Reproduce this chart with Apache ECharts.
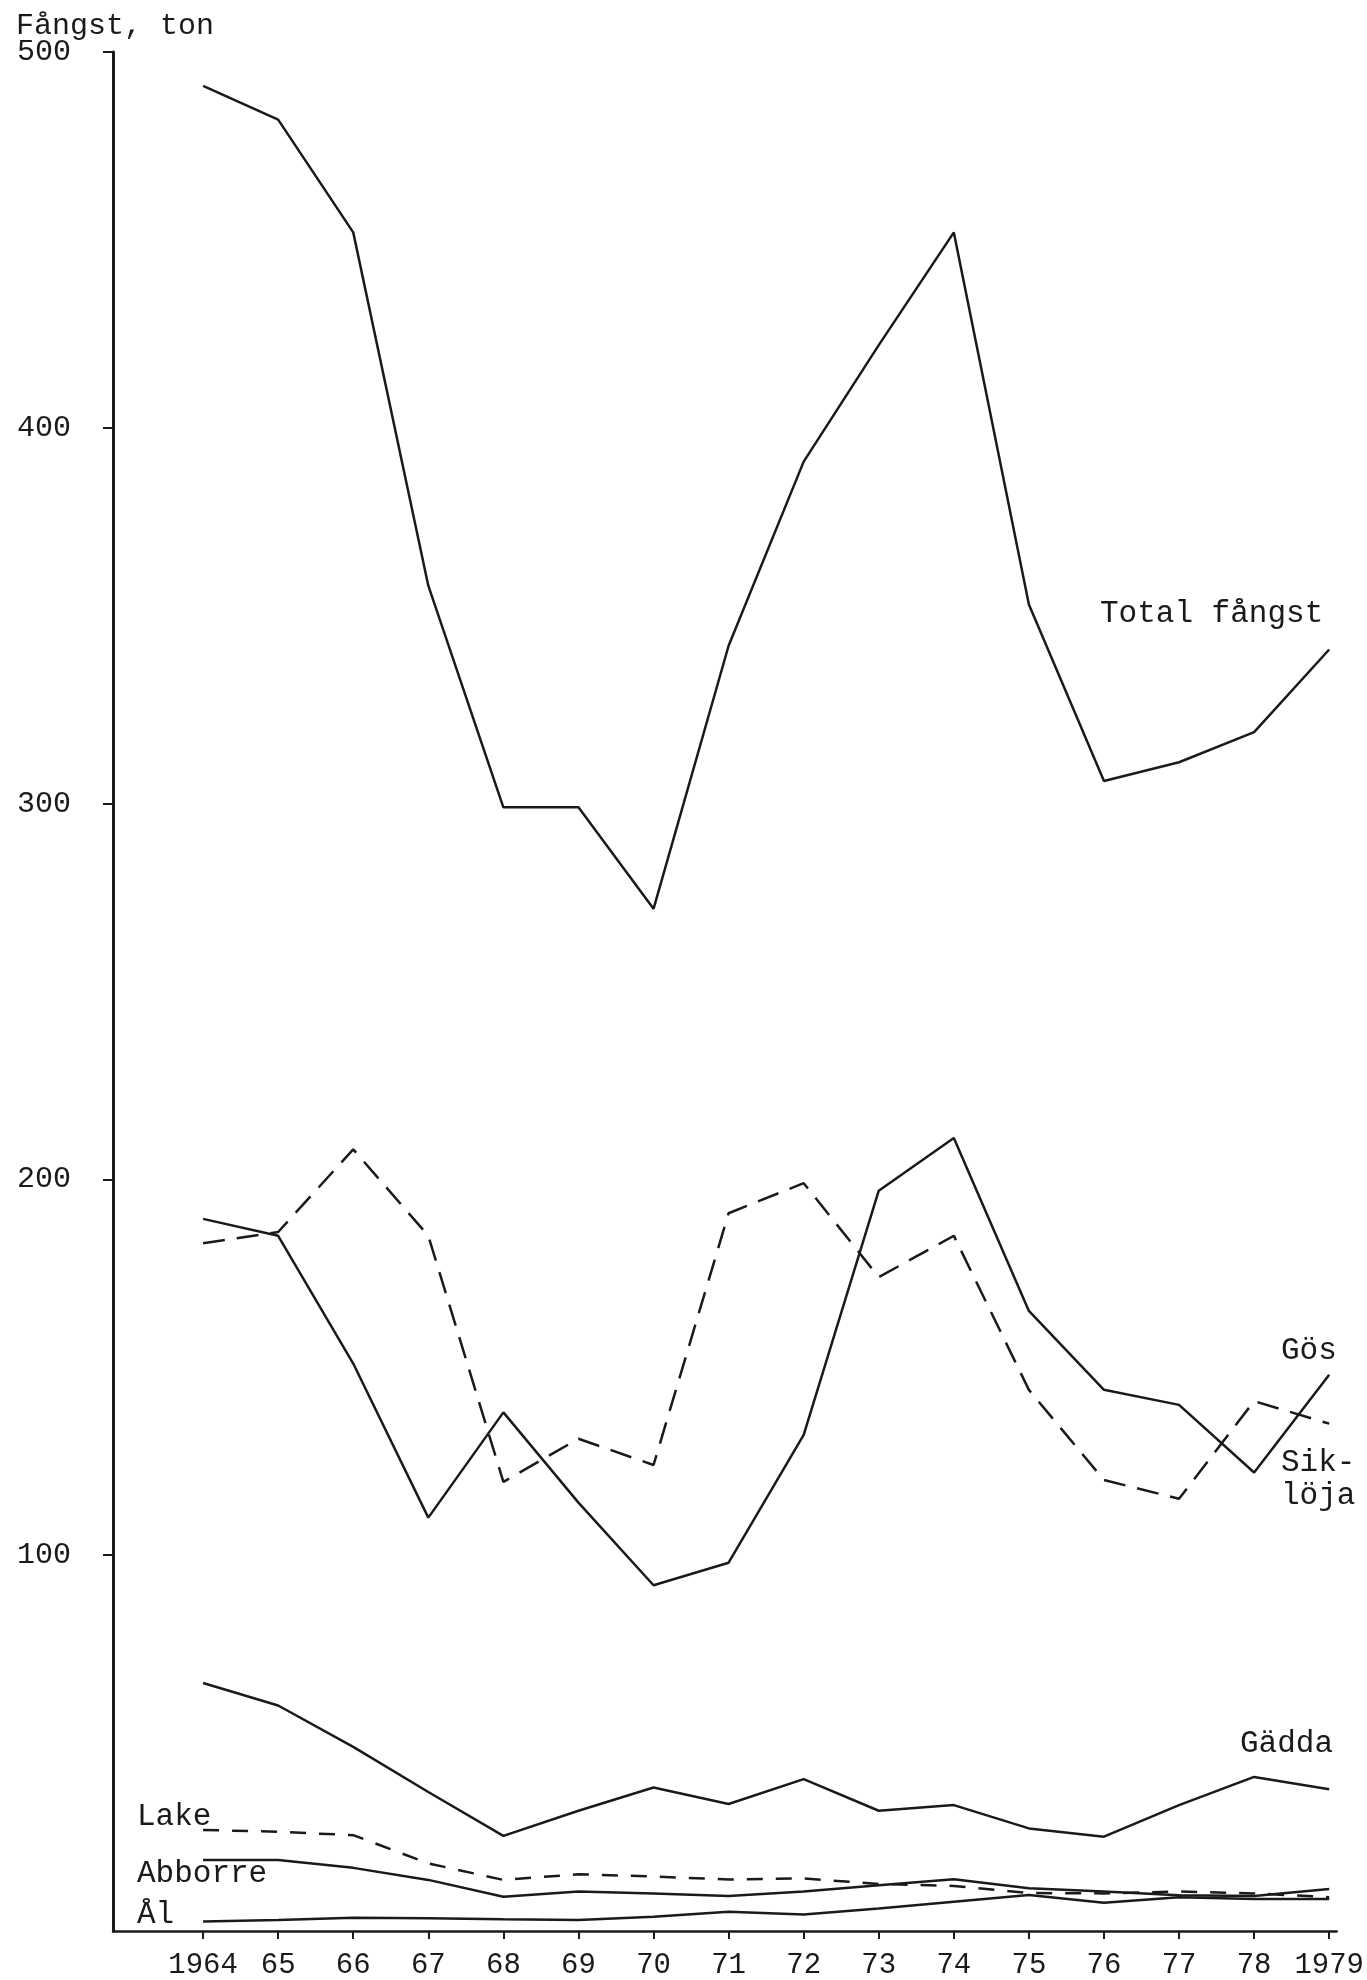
<!DOCTYPE html>
<html>
<head>
<meta charset="utf-8">
<script src="https://cdn.jsdelivr.net/npm/echarts@6/dist/echarts.min.js"></script>
<style>
html,body{margin:0;padding:0;background:#fff;}
#chart{width:1367px;height:1980px;}
</style>
</head>
<body>
<div id="chart"></div>
<script>
// ---- data ----
const years = [1964,1965,1966,1967,1968,1969,1970,1971,1972,1973,1974,1975,1976,1977,1978,1979];
const yearLabels = ['1964','65','66','67','68','69','70','71','72','73','74','75','76','77','78','1979'];
const yTicks = [100,200,300,400,500];
const totalFangst = [491,482,452,358,299,299,272,342,391,422,452,353,306,311,319,341];
const gos       = [189.5,185,151,110,138,114,92,98,132,197,211,165,144,140,122,148];
const sikloja   = [183,186,208,185,119.5,131,124,191,199,174,185,144,120,115,141,135];
const gadda     = [66,60,49,37,25.3,32,38.2,33.8,40.4,32,33.5,27.3,25.1,33.5,41,37.7];
const lake      = [26.9,26.4,25.5,18,13.6,15.1,14.5,13.7,14,12.5,12,10.1,10,10.5,10,9];
const abborre   = [18.9,18.9,16.8,13.6,9.1,10.5,10,9.3,10.5,12.2,13.8,11.4,10.5,9.5,9.3,11.2];
const al        = [2.5,2.9,3.5,3.4,3.1,2.9,3.8,5.1,4.4,6,7.8,9.6,7.5,9,8.5,8.5];

const FONT = '"Liberation Mono","DejaVu Sans Mono",monospace';
const INK = '#1a1a1a';

function pairs(vals){ return years.map((y,i)=>[y, vals[i]]); }
function line(name, vals, dash){
  return {
    name, type:'line', data: pairs(vals), symbol:'none', silent:true,
    lineStyle:{ color: INK, width: 2.5, type: dash || 'solid' },
    animation:false
  };
}

const chart = echarts.init(document.getElementById('chart'), null, {renderer:'canvas'});
chart.setOption({
  backgroundColor:'#fff',
  animation:false,
  title:{
    text:'Fångst, ton', left: 11, top: 6,
    textStyle:{ fontFamily: FONT, fontSize: 30, fontWeight:'normal', color: INK }
  },
  grid:{ left:113, top:52, right:27, bottom:49, containLabel:false },
  xAxis:{
    type:'value', min:1962.8, max:1979.1,
    axisLine:{ show:true, lineStyle:{ color: INK, width: 2.5 } },
    splitLine:{ show:false },
    axisTick:{ show:true, length:8, lineStyle:{ color: INK, width:2 }, customValues: years },
    axisLabel:{
      customValues: years, margin: 20,
      fontFamily: FONT, fontSize: 29, color: INK,
      formatter: v => yearLabels[years.indexOf(Math.round(v))] || ''
    }
  },
  yAxis:{
    type:'value', min:0, max:500,
    axisLine:{ show:true, lineStyle:{ color: INK, width: 3 } },
    splitLine:{ show:false },
    axisTick:{ show:true, length:10, lineStyle:{ color: INK, width:2 }, customValues: yTicks },
    axisLabel:{ customValues: yTicks, margin: 42, fontFamily: FONT, fontSize: 30, color: INK }
  },
  series:[
    line('Total fångst', totalFangst),
    line('Gös', gos),
    line('Siklöja', sikloja, [22,12]),
    line('Gädda', gadda),
    line('Lake', lake, [16,13]),
    line('Abborre', abborre),
    line('Ål', al)
  ],
  graphic:[
    { type:'text', left:1100, top:598, style:{ text:'Total fångst', font:'31px '+FONT, fill:INK } },
    { type:'text', left:1281, top:1335, style:{ text:'Gös', font:'31px '+FONT, fill:INK } },
    { type:'text', left:1281, top:1446, style:{ text:'Sik-\nlöja', font:'31px '+FONT, fill:INK, lineHeight:33 } },
    { type:'text', left:1240, top:1728, style:{ text:'Gädda', font:'31px '+FONT, fill:INK } },
    { type:'text', left:137, top:1801, style:{ text:'Lake', font:'31px '+FONT, fill:INK } },
    { type:'text', left:137, top:1858, style:{ text:'Abborre', font:'31px '+FONT, fill:INK } },
    { type:'text', left:137, top:1899, style:{ text:'Ål', font:'31px '+FONT, fill:INK } }
  ]
});
</script>
</body>
</html>
